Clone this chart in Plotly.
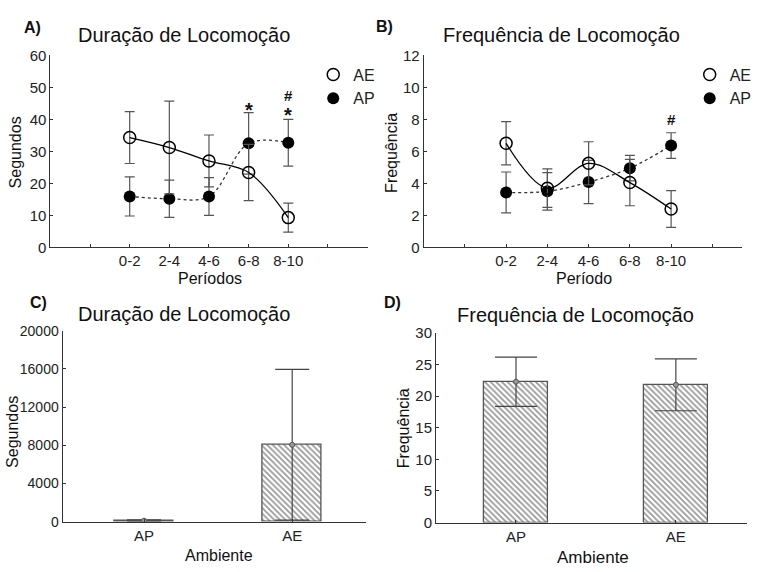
import plotly.graph_objects as go

# ---------------- data ----------------
periods = ["0-2", "2-4", "4-6", "6-8", "8-10"]
period_pos = [0, 1, 2, 3, 4]

dur_AE = [34.3, 31.2, 27.0, 23.4, 9.3]
dur_AE_err = [8.1, 14.5, 8.1, 8.8, 4.5]
dur_AP = [15.9, 15.2, 15.9, 32.5, 32.7]
dur_AP_err = [6.1, 5.8, 5.9, 9.6, 7.3]

freq_AE = [6.5, 3.7, 5.25, 4.05, 2.4]
freq_AE_err = [1.35, 1.2, 1.35, 1.45, 1.15]
freq_AP = [3.43, 3.5, 4.08, 4.95, 6.36]
freq_AP_err = [1.28, 1.17, 1.35, 0.8, 0.8]

env = ["AP", "AE"]
env_pos = [0, 1]
dur_total = [100, 8050]
dur_total_err = [90, 7900]
freq_total = [22.3, 21.8]
freq_total_err = [3.9, 4.1]

ticks_dur = [0, 10, 20, 30, 40, 50, 60]
ticks_freq = [0, 2, 4, 6, 8, 10, 12]
ticks_dur_total = [0, 4000, 8000, 12000, 16000, 20000]
ticks_freq_total = [0, 5, 10, 15, 20, 25, 30]

FONT = "Liberation Sans, Arial, sans-serif"
W, H = 757, 572

def px_x(p):
    return p / W

def px_y(p):
    return 1 - p / H

fig = go.Figure()

ERR = "#555555"

def line_pair(xa, ya, ae, ae_err, ap, ap_err, legend):
    fig.add_trace(go.Scatter(
        x=period_pos, y=ap, mode="lines+markers", xaxis=xa, yaxis=ya,
        line=dict(shape="spline", color="#333333", width=1.3, dash="dot"),
        marker=dict(symbol="circle", size=12, color="black"),
        error_y=dict(type="data", array=ap_err, color=ERR, thickness=1.2, width=5),
        showlegend=False))
    fig.add_trace(go.Scatter(
        x=period_pos, y=ae, mode="lines+markers", xaxis=xa, yaxis=ya,
        line=dict(shape="spline", color="black", width=1.3),
        marker=dict(symbol="circle-open", size=12, color="black", line=dict(width=1.5)),
        error_y=dict(type="data", array=ae_err, color=ERR, thickness=1.2, width=5),
        showlegend=False))
    # legend entries
    fig.add_trace(go.Scatter(
        x=[None], y=[None], mode="markers", name="AE", xaxis=xa, yaxis=ya,
        marker=dict(symbol="circle-open", size=12, color="black", line=dict(width=1.5)),
        legend=legend))
    fig.add_trace(go.Scatter(
        x=[None], y=[None], mode="markers", name="AP", xaxis=xa, yaxis=ya,
        marker=dict(symbol="circle", size=12, color="black"),
        legend=legend))

line_pair("x", "y", dur_AE, dur_AE_err, dur_AP, dur_AP_err, "legend")
line_pair("x2", "y2", freq_AE, freq_AE_err, freq_AP, freq_AP_err, "legend2")

def bar_panel(xa, ya, vals, errs, capw):
    fig.add_trace(go.Bar(
        x=env_pos, y=vals, xaxis=xa, yaxis=ya, width=0.4,
        marker=dict(color="white", line=dict(color="#555555", width=1.3),
                    pattern=dict(shape="\\", fgcolor="#333333", bgcolor="white",
                                 size=4, solidity=0.45)),
        showlegend=False))
    fig.add_trace(go.Scatter(
        x=env_pos, y=vals, xaxis=xa, yaxis=ya, mode="markers",
        marker=dict(symbol="circle", size=5, color="#999999", line=dict(color="#555555", width=1)),
        error_y=dict(type="data", array=errs, color="#444444", thickness=1.2, width=capw),
        showlegend=False))

bar_panel("x3", "y3", dur_total, dur_total_err, 17)
bar_panel("x4", "y4", freq_total, freq_total_err, 21)

def axis_common(size=15):
    return dict(showline=True, linecolor="#333333", linewidth=1, showgrid=False,
                zeroline=False, ticks="inside", ticklen=3, tickcolor="#333333",
                tickfont=dict(family=FONT, size=size, color="#222222"))

ticktext_p = [""] + periods + [""]
tickvals_p = [-1] + period_pos + [5]

def yax(dom_lo, dom_hi, rng, anchor, vals, size=15):
    return dict(domain=[px_y(dom_lo), px_y(dom_hi)], range=rng, anchor=anchor,
                tickvals=vals, ticktext=[str(v) for v in vals], **axis_common(size))

fig.update_layout(
    width=W, height=H, margin=dict(l=0, r=0, t=0, b=0),
    paper_bgcolor="white", plot_bgcolor="white",
    font=dict(family=FONT, color="#222222"),
    xaxis=dict(domain=[px_x(51), px_x(372)], range=[-2, 6], anchor="y",
               tickvals=tickvals_p, ticktext=ticktext_p, **axis_common()),
    yaxis=yax(245.7, 47.7, [0, 60], "x", ticks_dur),
    xaxis2=dict(domain=[px_x(428.7), px_x(751)], range=[-2, 5.72], anchor="y2",
                tickvals=tickvals_p, ticktext=ticktext_p, **axis_common()),
    yaxis2=yax(245.7, 47.7, [0, 12], "x2", ticks_freq),
    xaxis3=dict(domain=[px_x(63.3), px_x(370.7)], range=[-0.55, 1.5], anchor="y3",
                tickvals=env_pos, ticktext=env, **axis_common()),
    yaxis3=yax(528.3, 331.7, [0, 20000], "x3", ticks_dur_total, size=14),
    xaxis4=dict(domain=[px_x(441.3), px_x(756)], range=[-0.5, 1.445], anchor="y4",
                tickvals=env_pos, ticktext=env, **axis_common()),
    yaxis4=yax(529.3, 334, [0, 30], "x4", ticks_freq_total),
    legend=dict(x=px_x(317), y=px_y(50), xanchor="left", yanchor="top",
                font=dict(family=FONT, size=16, color="#222222"),
                bgcolor="rgba(0,0,0,0)", tracegroupgap=0),
    legend2=dict(x=px_x(698), y=px_y(50), xanchor="left", yanchor="top",
                 font=dict(family=FONT, size=16, color="#222222"),
                 bgcolor="rgba(0,0,0,0)", tracegroupgap=0),
    bargap=0,
)

ann = []
def paper_text(text, x, y, size, bold=False, angle=0):
    ann.append(dict(text=("<b>%s</b>" % text) if bold else text, x=px_x(x), y=px_y(y),
                    xref="paper", yref="paper", showarrow=False, textangle=angle,
                    font=dict(family=FONT, size=size, color="#111111"),
                    xanchor="center", yanchor="middle"))

# panel labels
paper_text("A)", 33, 19, 16, bold=True)
paper_text("B)", 389, 18, 16, bold=True)
paper_text("C)", 39, 303, 16, bold=True)
paper_text("D)", 397, 302, 16, bold=True)
# titles
paper_text("Duração de Locomoção", 186, 27, 20)
paper_text("Frequência de Locomoção", 568, 27, 20)
paper_text("Duração de Locomoção", 186, 314, 20)
paper_text("Frequência de Locomoção", 582, 315, 20)
# axis titles
paper_text("Períodos", 213, 278, 16)
paper_text("Segundos", 16, 148, 16, angle=-90)
paper_text("Período", 591, 278, 16)
paper_text("Frequência", 396, 148, 16, angle=-90)
paper_text("Ambiente", 222, 563, 16)
paper_text("Segundos", 12, 436, 16, angle=-90)
paper_text("Ambiente", 600, 565, 17)
paper_text("Frequência", 408, 432, 16, angle=-90)

# significance marks
def mark(text, x, y, xa, ya, size):
    ann.append(dict(text="<b>%s</b>" % text, x=x, y=y, xref=xa, yref=ya, showarrow=False,
                    font=dict(family=FONT, size=size, color="#111111"),
                    xanchor="center", yanchor="middle"))

mark("*", 3, 43.0, "x", "y", 20)
mark("*", 4, 41.2, "x", "y", 20)
mark("#", 4, 47.4, "x", "y", 15)
mark("#", 4, 8.0, "x2", "y2", 15)

fig.update_layout(annotations=ann)

fig.write_html("out.html")
